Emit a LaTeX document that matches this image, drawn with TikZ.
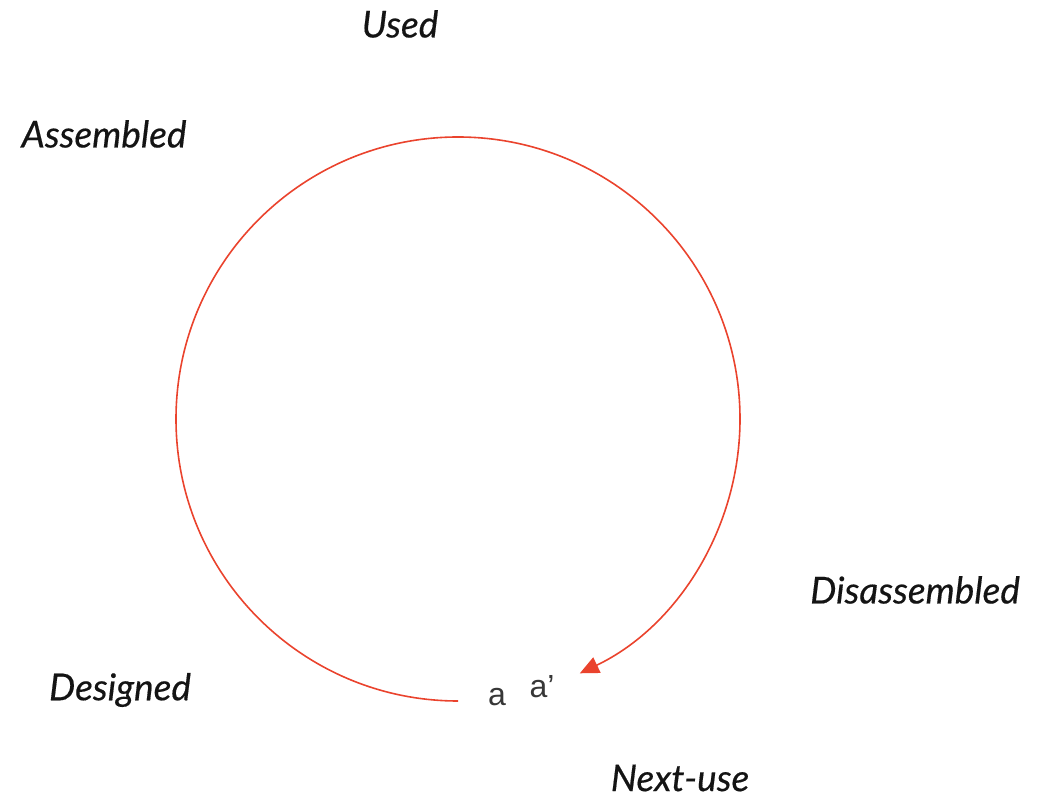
\documentclass[tikz,border=0pt]{standalone}
\usepackage{fontspec}
\setmainfont{Lato}
\newfontfamily\labelfont{Liberation Sans}
\usetikzlibrary{arrows.meta,calc}
\definecolor{cycred}{RGB}{234,67,45}
\definecolor{txt}{RGB}{20,20,20}
\begin{document}
\begin{tikzpicture}[x=1pt,y=1pt,
  stage/.style={inner sep=0pt, font=\fontsize{37}{42}\selectfont\itshape\addfontfeature{FakeBold=0.4}, text=txt},
  letterlbl/.style={inner sep=0pt, font=\labelfont\fontsize{32}{36}\selectfont, text=txt!85},
  cyclearrow/.style={draw=cycred, line width=1.6pt, -{Triangle[length=19pt,width=17pt]}}]
\useasboundingbox (0,0) rectangle (1038,803);
\coordinate (C) at (458,384);
\node[stage] (used) at (400,779) {Used};
\node[stage] (assembled) at (104,669) {Assembled};
\node[stage] (disassembled) at (915,213) {Disassembled};
\node[stage] (designed) at (120,113) {Designed};
\node[stage] (nextuse) at (680,25) {Next-use};
\node[letterlbl] (a) at (497,106) {a};
\node[letterlbl] (ap) at (542,116) {a’};
\coordinate (start) at ($(C)+(270:282)$);
\draw[cyclearrow] (start) arc[start angle=270, end angle=-64.4, radius=282] coordinate (end);
\end{tikzpicture}
\end{document}
